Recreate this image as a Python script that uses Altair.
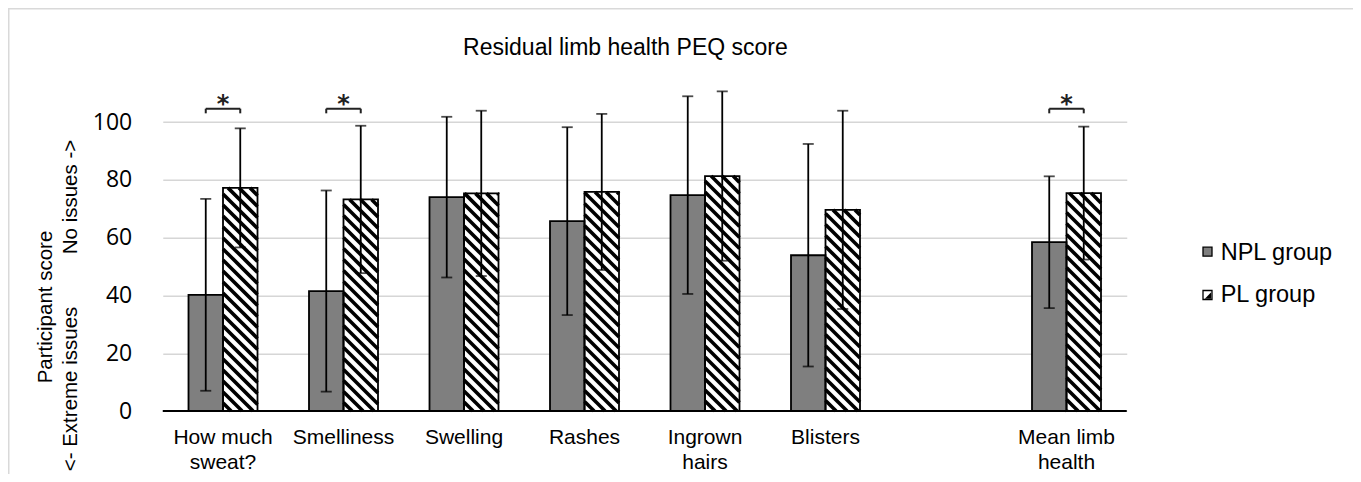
import altair as alt
import numpy as np
import pandas as pd

# ---------------- data ----------------
categories = ["How much sweat?", "Smelliness", "Swelling", "Rashes",
              "Ingrown hairs", "Blisters", "Mean limb health"]
wrapped_labels = ["How much\nsweat?", "Smelliness", "Swelling", "Rashes",
                  "Ingrown\nhairs", "Blisters", "Mean limb\nhealth"]
summary_category = "Mean limb health"
groups = ["NPL group", "PL group"]
npl_mean = [40.2, 41.5, 74.0, 65.7, 74.7, 53.9, 58.4]
npl_sd = [33.2, 34.8, 27.8, 32.5, 34.2, 38.5, 22.8]
pl_mean = [77.2, 73.2, 75.3, 75.8, 81.3, 69.6, 75.4]
pl_sd = [20.6, 25.5, 28.6, 27.0, 29.3, 34.3, 23.0]
significant = ["How much sweat?", "Smelliness", "Mean limb health"]
y_ticks = [0, 20, 40, 60, 80, 100]
chart_title = "Residual limb health PEQ score"
y_title = "Participant score"
y_low = "<- Extreme issues"
y_high = "No issues ->"

# ---------------- layout ----------------
W = 964.0
YMAX = 115.0
H = 332.35
N_SLOTS = 8
PX = W / N_SLOTS           # px per x unit
PY = H / YMAX              # px per y unit
BAR_PX = 34.5
bw = BAR_PX / PX
STRIPE_P = 11.0
PAD_L, PAD_T = 154.75, 70.65
PAD_R = 1345 - PAD_L - W
PAD_B = 466 - PAD_T - H

slots = [i + (1 if c == summary_category else 0) for i, c in enumerate(categories)]

rows = []
for i, c in enumerate(categories):
    s = slots[i]
    for g, m, sd in ((groups[0], npl_mean[i], npl_sd[i]), (groups[1], pl_mean[i], pl_sd[i])):
        x0 = s - bw if g == groups[0] else s
        x1 = x0 + bw
        rows.append(dict(cat=c, slot=s, group=g, mean=m, sd=sd, x0=x0, x1=x1,
                         xc=(x0 + x1) / 2, lo=m - sd, hi=m + sd))
bars = pd.DataFrame(rows)
npl_bars = bars[bars.group == groups[0]]
pl_bars = bars[bars.group == groups[1]]

# diagonal hatch for PL bars, computed from the bar rectangles
def to_x(px):
    return px / PX - 0.5

def to_y(py):
    return YMAX * (1 - py / H)

stripes = []
for _, r in pl_bars.iterrows():
    px0, px1 = (r.x0 + 0.5) * PX, (r.x1 + 0.5) * PX
    pyt, pyb = H - r["mean"] * PY, H
    cstart = np.floor((pyt - px1) / STRIPE_P) * STRIPE_P
    for cc in np.arange(cstart, pyb - px0 + STRIPE_P, STRIPE_P):
        xa = max(px0, pyt - cc)
        xb = min(px1, pyb - cc)
        if xb - xa > 0.3:
            stripes.append(dict(x=to_x(xa), y=to_y(xa + cc), x2=to_x(xb), y2=to_y(xb + cc)))
stripes = pd.DataFrame(stripes)

caps = pd.concat([bars[["xc", "lo"]].rename(columns={"lo": "v"}),
                  bars[["xc", "hi"]].rename(columns={"hi": "v"})])

BR_Y, BR_TICK, STAR_Y = 104.6, 103.0, 103.3
br = []
for c in significant:
    s = slots[categories.index(c)]
    br.append(dict(x=s - bw / 2, x2=s + bw / 2, y=BR_Y, y2=BR_Y))
    br.append(dict(x=s - bw / 2, x2=s - bw / 2, y=BR_Y, y2=BR_TICK))
    br.append(dict(x=s + bw / 2, x2=s + bw / 2, y=BR_Y, y2=BR_TICK))
brackets = pd.DataFrame(br)
stars = pd.DataFrame(dict(x=[slots[categories.index(c)] for c in significant],
                          y=[STAR_Y] * len(significant), t=["*"] * len(significant)))
labels = pd.DataFrame(dict(x=slots, t=wrapped_labels))
one = pd.DataFrame({"a": [0]})

xs = alt.Scale(domain=[-0.5, 7.5], nice=False, zero=False)
ys = alt.Scale(domain=[0, YMAX], nice=False, zero=False)

yaxis = alt.Axis(values=y_ticks, grid=True, gridColor="#d6d6d6", gridWidth=1.5,
                 domain=False, ticks=False, tickSize=0, labelPadding=31,
                 labelFont="Open Sans", labelFontSize=23, labelColor="#000000", title=None)

npl_layer = alt.Chart(npl_bars).mark_rect(fill="#7f7f7f").encode(
    x=alt.X("x0:Q", scale=xs, axis=None), x2="x1:Q",
    y=alt.Y("mean:Q", scale=ys, axis=yaxis), y2=alt.datum(0))

pl_layer = alt.Chart(pl_bars).mark_rect(fill="white").encode(
    x=alt.X("x0:Q", scale=xs, axis=None), x2="x1:Q",
    y=alt.Y("mean:Q", scale=ys), y2=alt.datum(0))

stripe_layer = alt.Chart(stripes).mark_rule(color="black", strokeWidth=3.6, strokeCap="butt").encode(
    x=alt.X("x:Q", scale=xs, axis=None), x2="x2:Q",
    y=alt.Y("y:Q", scale=ys), y2="y2:Q")

outline_layer = alt.Chart(bars).mark_rect(fill="transparent", stroke="black", strokeWidth=1.8).encode(
    x=alt.X("x0:Q", scale=xs, axis=None), x2="x1:Q",
    y=alt.Y("mean:Q", scale=ys), y2=alt.datum(0))

err_layer = alt.Chart(bars).mark_rule(color="black", strokeWidth=1.8).encode(
    x=alt.X("xc:Q", scale=xs, axis=None),
    y=alt.Y("lo:Q", scale=ys), y2="hi:Q")

cap_layer = alt.Chart(caps).mark_tick(orient="horizontal", size=11, thickness=1.8, color="black").encode(
    x=alt.X("xc:Q", scale=xs, axis=None),
    y=alt.Y("v:Q", scale=ys))

zero_layer = alt.Chart(one).mark_rule(color="black", strokeWidth=2.2).encode(
    x=alt.value(0), x2=alt.value(W), y=alt.datum(0))

br_layer = alt.Chart(brackets).mark_rule(color="#222222", strokeWidth=2).encode(
    x=alt.X("x:Q", scale=xs, axis=None), x2="x2:Q",
    y=alt.Y("y:Q", scale=ys), y2="y2:Q")

star_layer = alt.Chart(stars).mark_text(font="DejaVu Sans", fontSize=24, fontWeight="bold",
                                        color="#222222", baseline="alphabetic").encode(
    x=alt.X("x:Q", scale=xs, axis=None), y=alt.Y("y:Q", scale=ys), text="t:N")

label_layer = alt.Chart(labels).mark_text(font="Liberation Sans", fontSize=21, color="#000000",
                                          baseline="alphabetic", lineHeight=25,
                                          lineBreak="\n").encode(
    x=alt.X("x:Q", scale=xs, axis=None), y=alt.value(444 - 8 - PAD_T), text="t:N")

def txt(t, x, y, size, angle=0, align="center", baseline="alphabetic"):
    kw = dict(font="Liberation Sans", fontSize=size, color="#000000", align=align, baseline=baseline)
    if angle:
        kw["angle"] = angle
    return alt.Chart(one).mark_text(**kw).encode(
        x=alt.value(x - 8 - PAD_L), y=alt.value(y - 8 - PAD_T), text=alt.value(t))

title_layer = txt(chart_title, 625.4, 55, 23)
yt1 = txt(y_title, 45.5, 307, 20.5, angle=270, baseline="middle")
yt2 = txt(y_high, 71, 197, 20.5, angle=270, baseline="middle")
yt3 = txt(y_low, 71, 389, 20.5, angle=270, baseline="middle")

leg_x0 = 1203 - 8 - PAD_L
leg_npl = alt.Chart(one).mark_rect(fill="#7f7f7f", stroke="black", strokeWidth=1.3).encode(
    x=alt.value(leg_x0), x2=alt.value(leg_x0 + 9),
    y=alt.value(251.7 - 4.5 - 8 - PAD_T), y2=alt.value(251.7 + 4.5 - 8 - PAD_T))
leg_pl = alt.Chart(one).mark_rect(fill="white", stroke="black", strokeWidth=1.3).encode(
    x=alt.value(leg_x0), x2=alt.value(leg_x0 + 9),
    y=alt.value(295 - 4.5 - 8 - PAD_T), y2=alt.value(295 + 4.5 - 8 - PAD_T))
leg_pl_tri = alt.Chart(one).mark_point(shape="M1,-1L1,1L-1,1Z", filled=True, color="black",
                                       size=40, opacity=1).encode(
    x=alt.value(leg_x0 + 5), y=alt.value(295 + 0.5 - 8 - PAD_T))
leg_t1 = txt(groups[0], 1220.7, 260, 23.5, align="left")
leg_t2 = txt(groups[1], 1220.7, 301.7, 23.5, align="left")

frame = alt.Chart(one).mark_rect(fill="transparent", stroke="#d9d9d9", strokeWidth=1.5).encode(
    x=alt.value(-PAD_L + 0.75), y=alt.value(-PAD_T + 0.75),
    x2=alt.value(W + PAD_R + 50), y2=alt.value(H + PAD_B + 50))

chart = alt.layer(
    npl_layer, pl_layer, stripe_layer, outline_layer, err_layer, cap_layer, zero_layer,
    br_layer, star_layer, label_layer, title_layer, yt1, yt2, yt3,
    leg_npl, leg_pl, leg_pl_tri, leg_t1, leg_t2, frame
).properties(
    width=W, height=H,
    padding={"left": PAD_L, "top": PAD_T, "right": PAD_R, "bottom": PAD_B},
    autosize=alt.AutoSizeParams(type="none"),
).configure_view(strokeWidth=0)

chart.save("out.html", embed_options={"renderer": "svg", "actions": False})
